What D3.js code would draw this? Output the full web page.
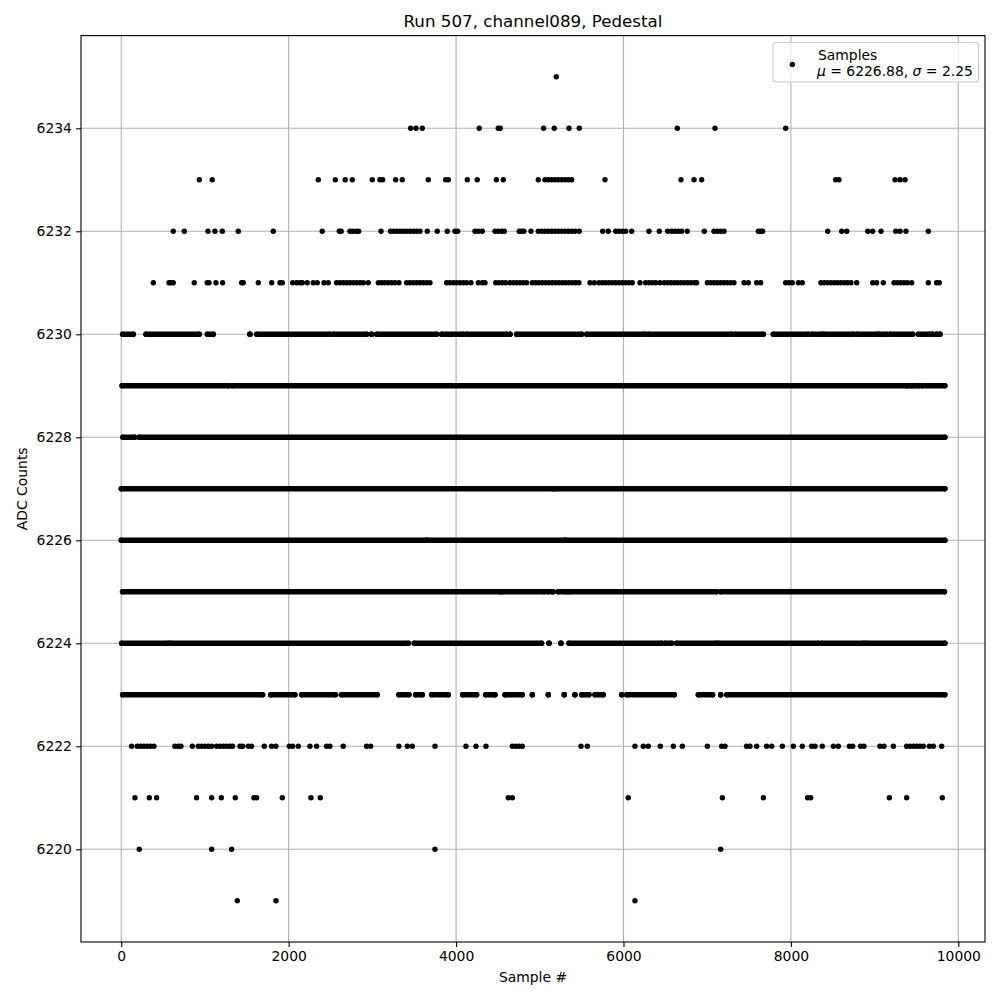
<!DOCTYPE html>
<html><head><meta charset="utf-8">
<script src="https://cdn.jsdelivr.net/npm/d3@7/dist/d3.min.js"></script>
<style>
body{margin:0;background:#fff;}
text{font-family:"DejaVu Sans",sans-serif;fill:#000;}
</style></head>
<body><svg id="c" width="1000" height="1000"></svg>
<script>
// ---- data (sample index per ADC level) ----
const title = "Run 507, channel089, Pedestal";
const xLabel = "Sample #";
const yLabel = "ADC Counts";
const xTicks = [0, 2000, 4000, 6000, 8000, 10000];
const yTicks = [6220, 6222, 6224, 6226, 6228, 6230, 6232, 6234];
const legendName = "Samples";
const legendMu = "6226.88";
const legendSigma = "2.25";

// isolated samples
const row6235 = [5197];
const row6234 = [3457,3521,3596,4277,4504,4528,5046,5173,5349,5472,6643,7093,7938];
const row6233 = [932,1087,2354,2557,2676,2760,2999,3091,3123,3278,3357,3668,3876,3907,4134,4253,4481,4564,4982,5062,5102,5142,5182,5221,5262,5301,5341,5381,5779,6687,6843,6934,8535,8575,9244,9304,9364];
const row6232 = [621,753,1036,1119,1207,1398,1816,2401,2605,2628,2732,2764,2804,2836,3103,3218,3250,3290,3330,3370,3410,3450,3490,3530,3569,3656,3775,3895,3987,4019,4226,4265,4313,4465,4504,4545,4576,4755,4784,4811,4895,4982,5023,5062,5102,5142,5182,5221,5262,5301,5341,5381,5421,5472,5751,5818,5907,5946,5986,6026,6098,6305,6428,6528,6576,6615,6655,6695,6762,6965,7081,7121,7161,7201,7611,7639,7663,8440,8607,8667,8918,8977,9077,9252,9304,9375,9642];
const row6231 = [383,570,590,621,872,1027,1048,1131,1211,1438,1458,1637,1797,1896,1924,2048,2096,2135,2163,2222,2294,2342,2422,2473,2573,2613,2653,2693,2732,2772,2812,2852,2892,2951,3071,3111,3150,3190,3230,3270,3318,3409,3449,3489,3529,3569,3608,3648,3688,3887,3927,3967,4007,4046,4086,4126,4178,4266,4313,4345,4473,4512,4552,4592,4644,4684,4723,4763,4803,4843,4911,4950,4990,5030,5070,5110,5150,5189,5229,5269,5309,5349,5389,5428,5468,5600,5651,5707,5747,5787,5826,5866,5906,5946,5986,6026,6065,6105,6197,6264,6304,6344,6384,6436,6487,6527,6567,6607,6647,6687,6726,6766,6806,6846,6874,7002,7041,7081,7121,7161,7201,7240,7280,7320,7440,7491,7591,7639,7937,7977,8017,8089,8136,8359,8399,8439,8479,8519,8558,8598,8638,8678,8718,8786,8977,9024,9104,9232,9271,9311,9351,9391,9443,9642,9741,9773];
const row6222 = [124,191,231,271,311,351,391,641,681,713,849,920,960,1000,1040,1080,1139,1179,1219,1259,1298,1330,1418,1450,1518,1557,1709,1796,1848,2007,2047,2115,2254,2334,2453,2493,2652,2931,2979,3317,3417,3477,3748,4118,4238,4357,4672,4711,4751,4791,5492,5568,6137,6237,6296,6440,6595,6703,7002,7173,7213,7471,7511,7591,7710,7770,7898,8029,8136,8248,8288,8375,8507,8566,8698,8738,8833,8873,9064,9112,9224,9383,9423,9462,9502,9542,9582,9654,9701,9801];
const row6221 = [164,335,422,900,1080,1195,1362,1585,1617,1924,2266,2378,4624,4672,6057,7181,7671,8200,8236,9176,9383,9809];
const row6220 = [215,1080,1318,3748,7161];
const row6219 = [1386,1848,6137];

// runs of consecutive samples [first, last] on the crowded levels
const runs6230 = [[16,144],[295,932],[1028,1099],[1537,1537],[1617,2493],[2533,2931],[2991,2991],[3051,3768],[3828,4086],[4126,4604],[4644,4644],[4723,5500],[5560,6257],[6296,7292],[7332,7671],[7790,8208],[8248,8367],[8395,8746],[8786,9024],[9052,9144],[9184,9455],[9522,9662],[9693,9693],[9741,9741],[9781,9781]];
const runs6229 = [[10,1285],[1325,9380],[9405,9445],[9470,9530],[9565,9840]];
const runs6228 = [[20,160],[215,9840]];
const runs6227 = [[0,5160],[5190,9840]];
const runs6226 = [[0,3640],[3660,5295],[5310,9840]];
const runs6225 = [[15,4524],[4552,5054],[5094,5160],[5220,5321],[5349,7113],[7161,9835]];
const runs6224 = [[5,562],[590,3430],[3500,5022],[5110,5110],[5253,5253],[5349,6456],[6496,6575],[6635,7105],[7133,8328],[8367,8873],[8905,9840]];
const runs6223 = [[16,1689],[1784,2075],[2155,2561],[2632,3058],[3317,3437],[3517,3597],[3708,3907],[4078,4246],[4353,4465],[4584,4791],[4911,4911],[5102,5102],[5293,5293],[5420,5420],[5500,5588],[5659,5759],[5978,5978],[6038,6607],[6894,7065],[7161,7161],[7233,9840]];

const pointRows = [[6235,row6235],[6234,row6234],[6233,row6233],[6232,row6232],[6231,row6231],[6222,row6222],[6221,row6221],[6220,row6220],[6219,row6219]];
const runRows = [[6230,runs6230],[6229,runs6229],[6228,runs6228],[6227,runs6227],[6226,runs6226],[6225,runs6225],[6224,runs6224],[6223,runs6223]];

// ---- drawing ----
const L = 81, R = 985, T = 35.6, B = 942;
const svg = d3.select("#c");
const x = d3.scaleLinear().domain([-481, 10319]).range([L, R]);
const y = d3.scaleLinear().domain([6218.2, 6235.8]).range([B, T]);
const fs = 13.9;

// grid
const g = svg.append("g");
g.selectAll("line.vx").data(xTicks).join("line")
  .attr("x1", d => x(d)).attr("x2", d => x(d)).attr("y1", T).attr("y2", B)
  .attr("stroke", "#b0b0b0").attr("stroke-width", 1.1);
g.selectAll("line.hy").data(yTicks).join("line")
  .attr("y1", d => y(d)).attr("y2", d => y(d)).attr("x1", L).attr("x2", R)
  .attr("stroke", "#b0b0b0").attr("stroke-width", 1.1);

// data
const r = 2.7;
const dots = svg.append("g").attr("fill", "#000");
pointRows.forEach(([lvl, arr]) => {
  dots.selectAll(null).data(arr).join("circle")
    .attr("cx", d => x(d)).attr("cy", y(lvl)).attr("r", r);
});
runRows.forEach(([lvl, arr]) => {
  dots.selectAll(null).data(arr).join("line")
    .attr("x1", d => x(d[0])).attr("x2", d => x(d[1]))
    .attr("y1", y(lvl)).attr("y2", y(lvl))
    .attr("stroke", "#000").attr("stroke-width", 2 * r).attr("stroke-linecap", "round");
  dots.selectAll(null).data(arr.flat()).join("circle")
    .attr("cx", d => x(d)).attr("cy", y(lvl)).attr("r", r);
});

// axes
const xAxis = d3.axisBottom(x).tickValues(xTicks).tickSize(4.9).tickPadding(4.2).tickFormat(d3.format("d"));
const yAxis = d3.axisLeft(y).tickValues(yTicks).tickSize(4.9).tickPadding(4.2).tickFormat(d3.format("d"));
const gx = svg.append("g").attr("transform", `translate(0,${B})`).call(xAxis);
const gy = svg.append("g").attr("transform", `translate(${L},0)`).call(yAxis);
[gx, gy].forEach(a => {
  a.select(".domain").remove();
  a.selectAll(".tick line").attr("stroke", "#000").attr("stroke-width", 1.1);
  a.selectAll(".tick text").attr("font-size", fs).attr("font-family", "DejaVu Sans").attr("fill", "#000");
});
// frame
svg.append("rect").attr("x", L).attr("y", T).attr("width", R - L).attr("height", B - T)
  .attr("fill", "none").attr("stroke", "#000").attr("stroke-width", 1.1);

// labels
svg.append("text").attr("x", (L + R) / 2).attr("y", 27).attr("text-anchor", "middle")
  .attr("font-size", 16.7).text(title);
svg.append("text").attr("x", (L + R) / 2).attr("y", 982).attr("text-anchor", "middle")
  .attr("font-size", fs).text(xLabel);
svg.append("text").attr("transform", `translate(26.5,${(T + B) / 2}) rotate(-90)`).attr("text-anchor", "middle")
  .attr("font-size", fs).text(yLabel);

// legend
const lg = svg.append("g");
lg.append("rect").attr("x", 773).attr("y", 42.5).attr("width", 205.5).attr("height", 39.5).attr("rx", 3)
  .attr("fill", "#fff").attr("fill-opacity", 0.8).attr("stroke", "#cccccc").attr("stroke-width", 1.1);
lg.append("circle").attr("cx", 792.3).attr("cy", 64.5).attr("r", r).attr("fill", "#000");
lg.append("text").attr("x", 818).attr("y", 59.5).attr("font-size", fs).text(legendName);
const t2 = lg.append("text").attr("x", 817).attr("y", 75.5).attr("font-size", fs);
t2.append("tspan").attr("font-style", "italic").text("μ");
t2.append("tspan").text(" = " + legendMu + ", ");
t2.append("tspan").attr("font-style", "italic").text("σ");
t2.append("tspan").text(" = " + legendSigma);
</script></body></html>
